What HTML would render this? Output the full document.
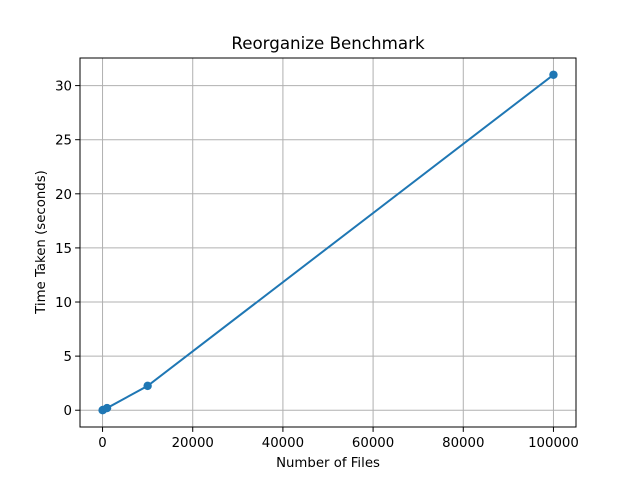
<!DOCTYPE html>
<html><head><meta charset="utf-8"><style>
body{margin:0;background:#fff;font-family:"Liberation Sans","DejaVu Sans",sans-serif}
</style></head><body>
<svg id="c" width="640" height="480" xmlns="http://www.w3.org/2000/svg" font-family="DejaVu Sans, Liberation Sans, sans-serif">
<rect width="640" height="480" fill="#fff"/>
<g id="grid"></g><g id="ticks"></g><g id="plot"></g>
<rect x="80" y="58" width="496" height="369" fill="none" stroke="#000" stroke-width="1"/>
<text x="328" y="49" text-anchor="middle" font-size="16.7">Reorganize Benchmark</text>
<text x="328" y="467" text-anchor="middle" font-size="13.3">Number of Files</text>
<text transform="translate(45,242) rotate(-90)" text-anchor="middle" font-size="13.3">Time Taken (seconds)</text>
</svg>
<script>
const files=[10,100,1000,10000,100000];
const times=[0.003,0.025,0.2,2.25,31.0];
const xTicks=[0,20000,40000,60000,80000,100000];
const yTicks=[0,5,10,15,20,25,30];
const L=80,R=576,T=58,B=427;
const xmin=-4999.5,xmax=104999.5,ymin=-1.55,ymax=32.55;
const sx=v=>L+(v-xmin)/(xmax-xmin)*(R-L);
const sy=v=>B-(v-ymin)/(ymax-ymin)*(B-T);
const NS='http://www.w3.org/2000/svg';
const g=document.getElementById('grid'),tk=document.getElementById('ticks'),p=document.getElementById('plot');
function mk(t,a,par){const e=document.createElementNS(NS,t);for(const k in a)e.setAttribute(k,a[k]);par.appendChild(e);return e;}
xTicks.forEach(v=>{const x=sx(v);
const l=mk('line',{x1:x,x2:x,y1:T,y2:B,stroke:'#b0b0b0','stroke-width':1},g);


mk('line',{x1:x,x2:x,y1:B,y2:B+4.9,stroke:'#000','stroke-width':1},tk);
const t=mk('text',{x:x,y:B+20,'text-anchor':'middle','font-size':13.3},tk);t.textContent=v;

});
yTicks.forEach(v=>{const y=sy(v);
const l=mk('line',{x1:L,x2:R,y1:y,y2:y,stroke:'#b0b0b0','stroke-width':1},g);


mk('line',{x1:L-4.9,x2:L,y1:y,y2:y,stroke:'#000','stroke-width':1},tk);
const t=mk('text',{x:L-8,y:y+5,'text-anchor':'end','font-size':13.3},tk);t.textContent=v;

});
const pts=files.map((f,i)=>sx(f)+','+sy(times[i])).join(' ');
const pl=mk('polyline',{points:pts,fill:'none',stroke:'#1f77b4','stroke-width':2},p);


files.forEach((f,i)=>{const c=mk('circle',{cx:sx(f),cy:sy(times[i]),r:4.2,fill:'#1f77b4'},p);

});
</script>
</body></html>
